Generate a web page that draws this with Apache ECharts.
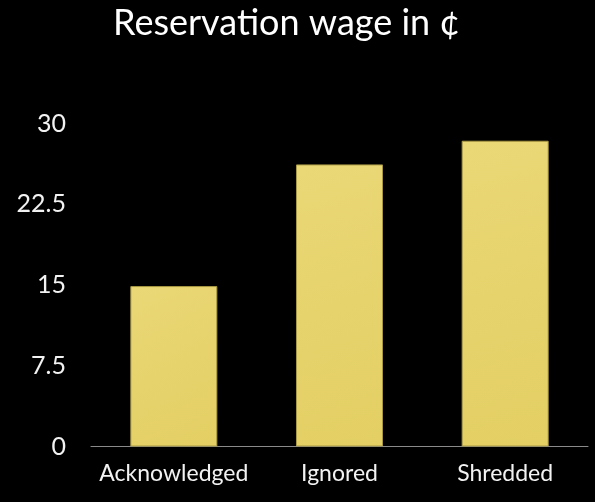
<!DOCTYPE html>
<html><head><meta charset="utf-8">
<script src="https://cdn.jsdelivr.net/npm/echarts@6/dist/echarts.min.js"></script>
<style>html,body{margin:0;padding:0;background:#000;}#c{width:595px;height:502px;}</style>
</head><body><div id="c"></div>
<script>
const categories = ['Acknowledged', 'Ignored', 'Shredded'];
const wages = [14.9, 26.2, 28.4];
const yTicks = [0, 7.5, 15, 22.5, 30];
const titleText = 'Reservation wage in ¢';

const chart = echarts.init(document.getElementById('c'));
chart.setOption({
  backgroundColor: '#000',
  animation: false,
  title: {
    text: titleText,
    left: 108, top: 0,
    textStyle: { color: '#fff', fontFamily: 'Lato', fontSize: 36, fontWeight: 'normal' }
  },
  grid: { left: 91, right: 7, top: 123.5, bottom: 55.5 },
  xAxis: {
    type: 'category', data: categories,
    axisLine: { lineStyle: { color: '#8a8a8a', width: 1 } },
    axisTick: { show: false },
    axisLabel: { color: '#f2f2f2', fontFamily: 'Lato', fontSize: 23, margin: 16, interval: 0, hideOverlap: false }
  },
  yAxis: {
    type: 'value', min: yTicks[0], max: yTicks[yTicks.length - 1], interval: 7.5,
    axisLine: { show: false }, axisTick: { show: false },
    splitLine: { show: false },
    axisLabel: { color: '#f2f2f2', fontFamily: 'Lato', fontSize: 25, margin: 25 }
  },
  series: [{
    type: 'bar', data: wages, barWidth: 87,
    itemStyle: {
      color: new echarts.graphic.LinearGradient(0, 0, 1, 1, [
        { offset: 0, color: '#EAD877' }, { offset: 0.5, color: '#E6D36C' }, { offset: 1, color: '#E3CF63' }
      ]),
      borderColor: '#A89843', borderWidth: 1
    }
  }]
});
</script></body></html>
